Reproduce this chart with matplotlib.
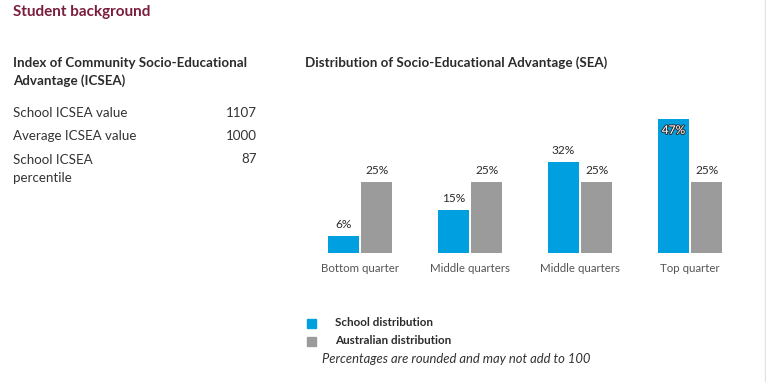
import matplotlib.pyplot as plt
import matplotlib.patheffects as pe
import numpy as np

plt.rcParams['font.family'] = ['Lato', 'DejaVu Sans']

# data
quarters = ['Bottom quarter', 'Middle quarters', 'Middle quarters', 'Top quarter']
school = [6, 15, 32, 47]
australia = [25, 25, 25, 25]
icsea_labels = ['School ICSEA value', 'Average ICSEA value', 'School ICSEA\npercentile']
icsea_values = ['1107', '1000', '87']

W, H = 766, 382
fig = plt.figure(figsize=(W / 100, H / 100), dpi=100)

def fx(px):
    return px / W

def fy(py):
    return 1 - py / H

BLUE = '#009fe0'
GREY = '#9b9b9b'
DARK = '#2b2b2b'

# header + left panel
fig.text(fx(13), fy(12), 'Student background', color='#7b1d3e', fontsize=11,
         fontweight='bold', va='center')
fig.text(fx(13), fy(72), 'Index of Community Socio-Educational\nAdvantage (ICSEA)',
         color=DARK, fontsize=9.6, fontweight='bold', va='center', linespacing=1.55)
row_y = [113, 136, 169]
for lab, val, y in zip(icsea_labels, icsea_values, row_y):
    fig.text(fx(13), fy(y), lab, color='#333333', fontsize=9.6, va='center', linespacing=1.6)
    fig.text(fx(257), fy(y if '\n' not in lab else y - 10), val, color='#333333',
             fontsize=9.6, va='center', ha='right')

fig.text(fx(305), fy(63), 'Distribution of Socio-Educational Advantage (SEA)',
         color=DARK, fontsize=9.6, fontweight='bold', va='center')

# bar chart
base, top = 253, 100
ax = fig.add_axes([fx(300), fy(base), fx(740) - fx(300), (base - top) / H])
x = np.arange(len(quarters))
w = 0.285
b1 = ax.bar(x - 0.151, school, w, color=BLUE)
b2 = ax.bar(x + 0.151, australia, w, color=GREY)
ax.set_xlim(-60 / 110, 380 / 110)
ax.set_ylim(0, (base - top) / 2.85)
ax.axis('off')

for i, v in enumerate(school):
    if v > 40:
        ax.text(x[i] - 0.151, v - 4, f'{v}%', ha='center', va='center', fontsize=8.6,
                color='white', path_effects=[pe.withStroke(linewidth=1.5, foreground='#333333')])
    else:
        ax.text(x[i] - 0.151, v + 4, f'{v}%', ha='center', va='center', fontsize=8.6, color=DARK)
for i, v in enumerate(australia):
    ax.text(x[i] + 0.151, v + 4, f'{v}%', ha='center', va='center', fontsize=8.6, color=DARK)
for i, q in enumerate(quarters):
    ax.text(x[i], -5.4, q, ha='center', va='center', fontsize=8.3, color='#555555')

# legend
fig.patches.append(plt.Rectangle((fx(307), fy(328)), fx(9), 9 / H, color=BLUE,
                                 transform=fig.transFigure))
fig.patches.append(plt.Rectangle((fx(307), fy(346)), fx(9), 9 / H, color=GREY,
                                 transform=fig.transFigure))
fig.text(fx(335), fy(323), 'School distribution', fontsize=8.4, fontweight='bold',
         color=DARK, va='center')
fig.text(fx(335), fy(341), 'Australian distribution', fontsize=8.4, fontweight='bold',
         color=DARK, va='center')
fig.text(fx(322), fy(359), 'Percentages are rounded and may not add to 100', fontsize=9.4,
         style='italic', color='#333333', va='center')

# right border line
fig.add_artist(plt.Line2D([fx(764.5), fx(764.5)], [0, 1], color='#e3e3e3', lw=1))

fig.savefig('out.png', dpi=100)
